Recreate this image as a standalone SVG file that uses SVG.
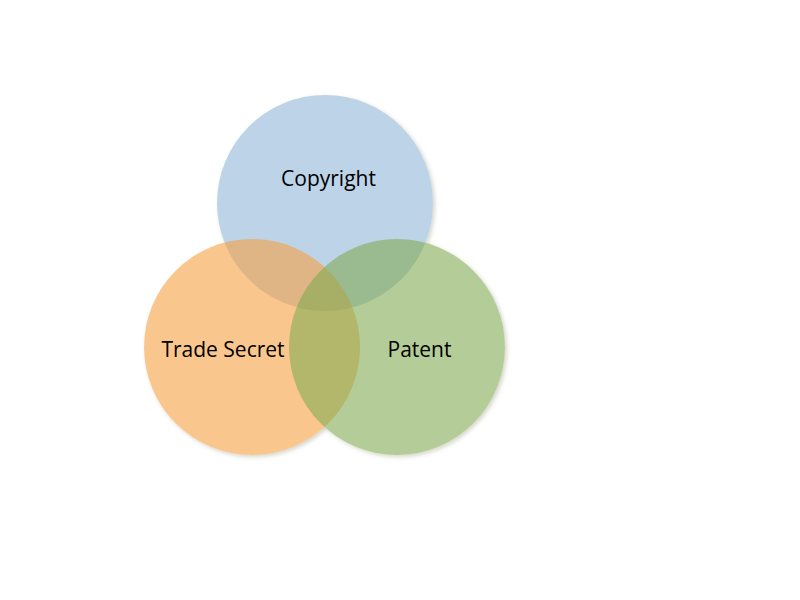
<svg xmlns="http://www.w3.org/2000/svg" width="800" height="600" viewBox="0 0 800 600">
<defs>
<filter id="blur" x="-20%" y="-20%" width="140%" height="140%">
<feGaussianBlur stdDeviation="2"/>
</filter>
</defs>
<style>
.s{fill:#9a9a80;opacity:0.4;filter:url(#blur)}
.w{fill:#fff}
.c{fill-opacity:0.6}
.t{font-family:"Open Sans","Liberation Sans",sans-serif;font-size:21px;fill:#000;text-anchor:middle}
</style>
<rect width="800" height="600" fill="#fff"/>
<g id="shadows">
<circle class="s" cx="327" cy="205" r="108"/>
<circle class="s" cx="254" cy="349" r="108"/>
<circle class="s" cx="399" cy="349" r="108"/>
<circle class="w" cx="325" cy="203" r="108"/>
<circle class="w" cx="252" cy="347" r="108"/>
<circle class="w" cx="397" cy="347" r="108"/>
</g>
<g id="copyright">
<circle class="c" cx="325" cy="203" r="108" fill="#91b6d9"/>
</g>
<g id="trade-secret">
<circle class="c" cx="252" cy="347" r="108" fill="#f5a243"/>
</g>
<g id="patent">
<circle class="c" cx="397" cy="347" r="108" fill="#82ac53"/>
</g>
<g id="connectors"/>
<g id="labels">
<text class="t" x="328.5" y="186">Copyright</text>
<text class="t" x="223" y="357">Trade Secret</text>
<text class="t" x="419.5" y="357">Patent</text>
</g>
</svg>
